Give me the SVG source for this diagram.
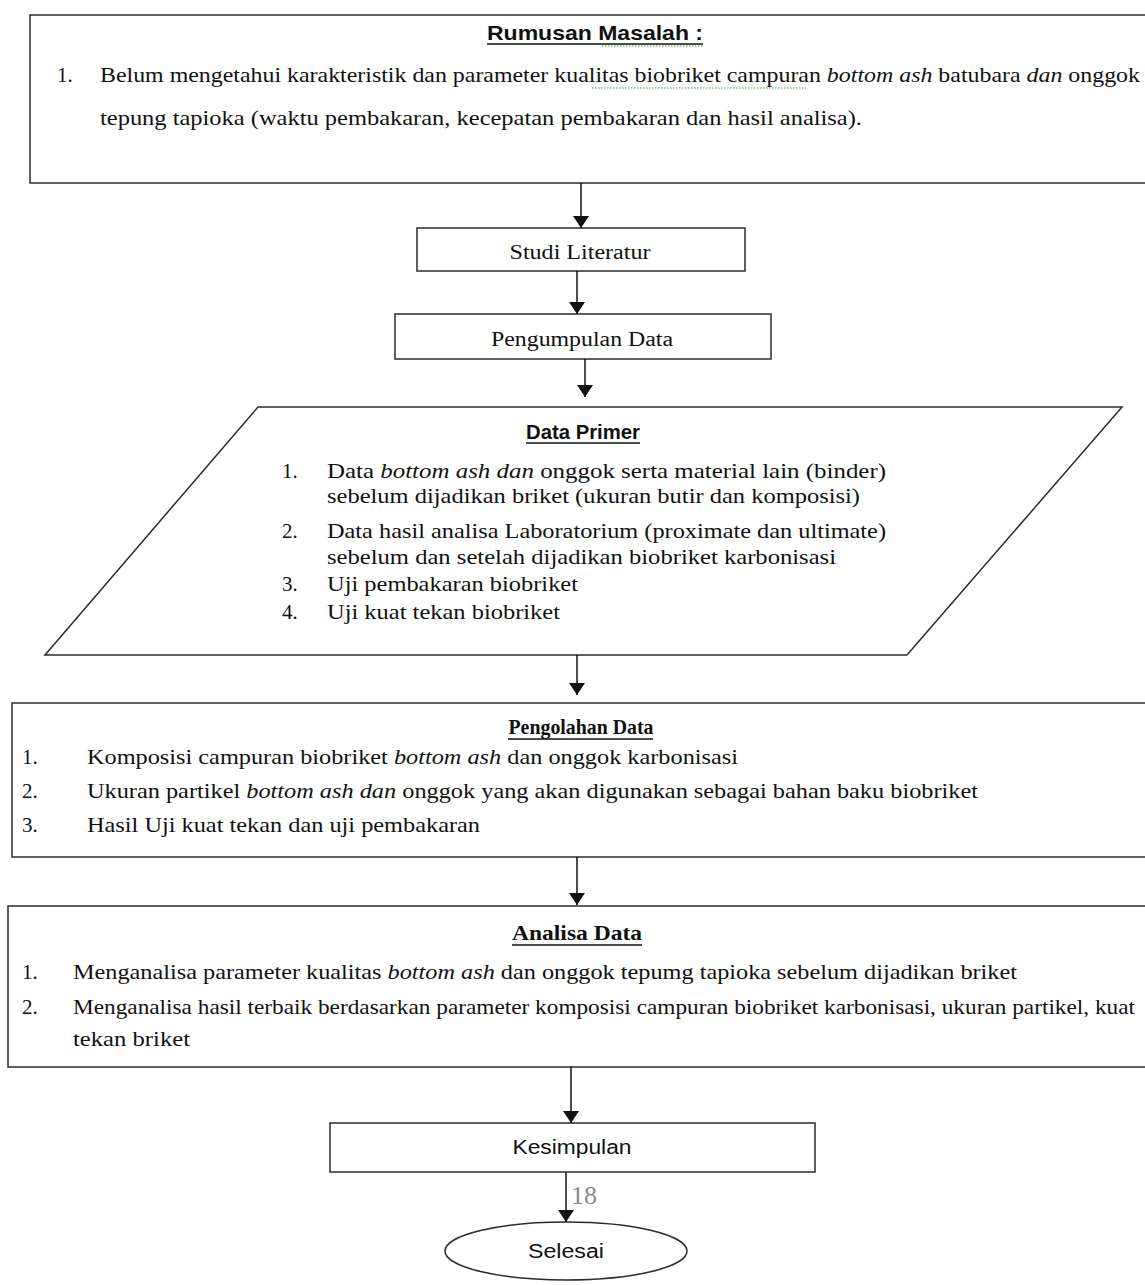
<svg xmlns="http://www.w3.org/2000/svg" width="1145" height="1285" viewBox="0 0 1145 1285">
<style>
.box{fill:#fff;stroke:#2b2b2b;stroke-width:1.5}
.t{font-family:"Liberation Serif",serif;font-size:21px;fill:#111}
.b{font-family:"Liberation Serif",serif;font-size:20px;fill:#111}
.c{text-anchor:middle}
.i{font-style:italic}
.hs{font-family:"Liberation Sans",sans-serif;font-size:21px;font-weight:bold;fill:#111}
.hr{font-family:"Liberation Serif",serif;font-size:22px;font-weight:bold;fill:#111}
.s{font-family:"Liberation Sans",sans-serif;font-size:20px;fill:#111}
.ul{stroke:#111;stroke-width:1.5}
.con{stroke:#111;stroke-width:1.5;fill:none;marker-end:url(#ah)}
.sq{stroke:#4a9a4a;stroke-width:1.2;fill:none;stroke-dasharray:1.5 1.5}
</style>
<defs>
<marker id="ah" viewBox="0 0 12 16" refX="12" refY="8" markerWidth="12" markerHeight="16" markerUnits="userSpaceOnUse" orient="auto">
<path d="M0,0 L12,8 L0,16 Z" fill="#111"/>
</marker>
</defs>
<rect width="1145" height="1285" fill="#fff"/>

<g id="rumusan">
<rect class="box" x="30" y="15" width="1125" height="168"/>
<text class="hs c" x="595" y="40" textLength="216" lengthAdjust="spacingAndGlyphs">Rumusan Masalah :</text>
<line class="ul" x1="487" y1="44" x2="703" y2="44"/>
<path class="sq" d="M602,46 L703,46"/>
<text class="t" x="57" y="82">1.</text>
<text class="t" x="100" y="82" textLength="1040" lengthAdjust="spacingAndGlyphs">Belum mengetahui karakteristik dan parameter kualitas biobriket  campuran <tspan class="i">bottom ash</tspan> batubara  <tspan class="i">dan</tspan> onggok</text>
<path class="sq" d="M592,88 L806,88"/>
<text class="t" x="100" y="125" textLength="762" lengthAdjust="spacingAndGlyphs">tepung tapioka (waktu pembakaran, kecepatan pembakaran dan hasil analisa).</text>
</g>

<g id="studi">
<rect class="box" x="417" y="228" width="328" height="43"/>
<text class="b c" x="580" y="259" textLength="141" lengthAdjust="spacingAndGlyphs">Studi Literatur</text>
</g>

<g id="pengumpulan">
<rect class="box" x="395" y="314" width="376" height="45"/>
<text class="b c" x="582" y="346" textLength="182" lengthAdjust="spacingAndGlyphs">Pengumpulan Data</text>
</g>

<g id="primer">
<polygon class="box" points="258,407 1122,407 907,655 45,655"/>
<text class="hs c" x="583" y="439" textLength="114" lengthAdjust="spacingAndGlyphs">Data Primer</text>
<line class="ul" x1="526" y1="443" x2="640" y2="443"/>
<text class="t" x="282" y="478">1.</text>
<text class="t" x="327" y="478" textLength="559" lengthAdjust="spacingAndGlyphs">Data <tspan class="i">bottom ash dan</tspan> onggok serta material lain (binder)</text>
<text class="t" x="327" y="503" textLength="533" lengthAdjust="spacingAndGlyphs">sebelum dijadikan briket (ukuran butir dan komposisi)</text>
<text class="t" x="282" y="538">2.</text>
<text class="t" x="327" y="538" textLength="559" lengthAdjust="spacingAndGlyphs">Data hasil analisa Laboratorium (proximate dan ultimate)</text>
<text class="t" x="327" y="564" textLength="509" lengthAdjust="spacingAndGlyphs">sebelum dan setelah dijadikan biobriket karbonisasi</text>
<text class="t" x="282" y="591">3.</text>
<text class="t" x="327" y="591" textLength="251" lengthAdjust="spacingAndGlyphs">Uji pembakaran biobriket</text>
<text class="t" x="282" y="619">4.</text>
<text class="t" x="327" y="619" textLength="233" lengthAdjust="spacingAndGlyphs">Uji kuat tekan biobriket</text>
</g>

<g id="pengolahan">
<rect class="box" x="12" y="703" width="1143" height="154"/>
<text class="hr c" x="581" y="734" textLength="145" lengthAdjust="spacingAndGlyphs">Pengolahan Data</text>
<line class="ul" x1="508" y1="739" x2="653" y2="739"/>
<text class="t" x="22" y="764">1.</text>
<text class="t" x="87" y="764" textLength="651" lengthAdjust="spacingAndGlyphs">Komposisi campuran biobriket <tspan class="i">bottom ash</tspan> dan onggok karbonisasi</text>
<text class="t" x="22" y="798">2.</text>
<text class="t" x="87" y="798" textLength="891" lengthAdjust="spacingAndGlyphs">Ukuran partikel <tspan class="i">bottom ash dan</tspan> onggok yang akan digunakan sebagai bahan baku biobriket</text>
<text class="t" x="22" y="832">3.</text>
<text class="t" x="87" y="832" textLength="393" lengthAdjust="spacingAndGlyphs">Hasil Uji kuat tekan dan uji pembakaran</text>
</g>

<g id="analisa">
<rect class="box" x="8" y="906" width="1147" height="161"/>
<text class="hr c" x="577" y="940" textLength="130" lengthAdjust="spacingAndGlyphs">Analisa Data</text>
<line class="ul" x1="512" y1="945" x2="642" y2="945"/>
<text class="t" x="22" y="979">1.</text>
<text class="t" x="73" y="979" textLength="944" lengthAdjust="spacingAndGlyphs">Menganalisa parameter kualitas <tspan class="i">bottom ash</tspan> dan onggok tepumg tapioka sebelum dijadikan briket</text>
<text class="t" x="22" y="1014">2.</text>
<text class="t" x="73" y="1014" textLength="1062" lengthAdjust="spacingAndGlyphs">Menganalisa hasil terbaik berdasarkan parameter komposisi campuran biobriket karbonisasi, ukuran partikel, kuat</text>
<text class="t" x="73" y="1046" textLength="117" lengthAdjust="spacingAndGlyphs">tekan briket</text>
</g>

<g id="kesimpulan">
<rect class="box" x="330" y="1123" width="485" height="49"/>
<text class="s c" x="572" y="1154" textLength="119" lengthAdjust="spacingAndGlyphs">Kesimpulan</text>
</g>

<g id="selesai">
<ellipse class="box" cx="566" cy="1251" rx="121" ry="29"/>
<text class="s c" x="566" y="1258" textLength="76" lengthAdjust="spacingAndGlyphs">Selesai</text>
</g>

<text x="571" y="1204" font-family="Liberation Serif, serif" font-size="26" fill="#8a8a8a">18</text>

<g id="connectors">
<line class="con" x1="581" y1="183" x2="581" y2="228"/>
<line class="con" x1="577" y1="271" x2="577" y2="314"/>
<line class="con" x1="585" y1="359" x2="585" y2="397"/>
<line class="con" x1="577" y1="655" x2="577" y2="695"/>
<line class="con" x1="577" y1="857" x2="577" y2="905"/>
<line class="con" x1="571" y1="1067" x2="571" y2="1123"/>
<line class="con" x1="566" y1="1172" x2="566" y2="1222"/>
</g>
</svg>
